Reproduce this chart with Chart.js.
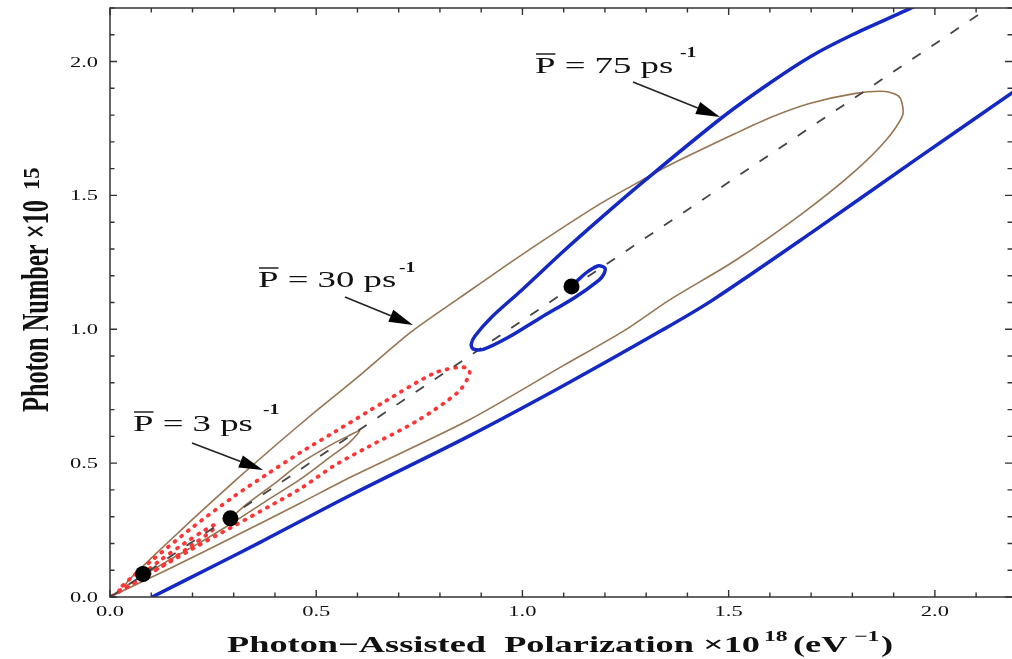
<!DOCTYPE html>
<html><head><meta charset="utf-8">
<script src="https://cdn.jsdelivr.net/npm/chart.js@4.4.1/dist/chart.umd.min.js"></script>
<style>html,body{margin:0;padding:0;background:#fff;overflow:hidden}#wrap{width:1012px;height:659px;position:relative}</style>
</head><body><div id="wrap"><canvas id="c" width="1012" height="659"></canvas></div>
<script>
// ---- tick labels ----
const xTickLabels = ['0.0','0.5','1.0','1.5','2.0'];
const yTickLabels = ['0.0','0.5','1.0','1.5','2.0'];
// ---- annotation labels (mean rate, ps^-1) ----
const rateLabels = ['3','30','75'];
// ---- steady-state points ----
const dotX = [0.080, 0.292, 1.119];
const dotY = [0.086, 0.294, 1.160];
// ---- dashed diagonal ----
const diagX = [0.0, 2.13];
const diagY = [0.0, 2.20];
// ---- 75 ps^-1 (blue) ----
const blueX = [1.119,1.139,1.161,1.185,1.200,1.197,1.185,1.127,1.046,0.966,0.905,0.880,0.876,0.885,0.925,0.998,1.102,1.192,1.297,1.484,1.600,1.700,1.800,1.929,1.970];
const blueY = [1.160,1.190,1.218,1.237,1.228,1.205,1.183,1.119,1.045,0.970,0.925,0.927,0.945,0.975,1.045,1.146,1.295,1.418,1.556,1.791,1.920,2.020,2.100,2.190,2.220];
const blueLowX = [0.102,0.250,0.365,0.584,0.869,1.100,1.338,1.460,1.700,1.950,2.250];
const blueLowY = [0.000,0.115,0.205,0.381,0.600,0.790,0.996,1.108,1.360,1.630,1.950];
// ---- 30 ps^-1 (brown) ----
const brownX = [0.292,0.330,0.400,0.462,0.540,0.585,0.605,0.598,0.577,0.540,0.462,0.380,0.300,0.220,0.140,0.070,0.035,
  0.050,0.100,0.200,0.300,0.400,0.500,0.600,0.730,0.850,1.000,1.190,1.297,1.355,1.516,1.600,1.696,1.808,1.881,1.915,1.922,
  1.881,1.800,1.679,1.516,1.355,1.248,1.100,0.869,0.584,0.462,0.300,0.150,0.000];
const brownY = [0.294,0.345,0.425,0.500,0.572,0.607,0.622,0.605,0.572,0.530,0.440,0.360,0.280,0.205,0.135,0.070,0.040,
  0.070,0.145,0.290,0.430,0.565,0.695,0.820,0.990,1.120,1.280,1.470,1.563,1.612,1.731,1.790,1.843,1.881,1.888,1.866,1.800,
  1.705,1.582,1.433,1.257,1.108,0.996,0.865,0.660,0.448,0.351,0.225,0.110,0.000];
// ---- 3 ps^-1 (red dotted) ----
const redX = [0.080,0.120,0.180,0.230,0.255,0.250,0.200,0.140,0.080,0.040,0.020,
  0.050,0.100,0.200,0.300,0.382,0.462,0.543,0.664,0.786,0.844,0.866,0.872,0.869,0.844,0.747,0.625,0.543,0.462,0.382,0.300,0.200,0.100,0.000];
const redY = [0.086,0.135,0.200,0.250,0.270,0.252,0.195,0.130,0.072,0.036,0.025,
  0.070,0.135,0.260,0.375,0.460,0.540,0.615,0.728,0.836,0.858,0.855,0.840,0.821,0.765,0.660,0.560,0.490,0.405,0.335,0.265,0.180,0.090,0.000];

const pts = (xs, ys) => xs.map((v, i) => ({x: v, y: ys[i]}));

const SERIF = '"Liberation Serif", "DejaVu Serif", serif';
function txt(ctx, s, x, y, font, sx, align) {
  ctx.save();
  ctx.font = font;
  ctx.textAlign = align || 'left';
  ctx.textBaseline = 'alphabetic';
  ctx.translate(x, y);
  ctx.scale(sx, 1);
  ctx.fillText(s, 0, 0);
  const w = ctx.measureText(s).width * sx;
  ctx.restore();
  return w;
}
function arrow(ctx, x1, y1, x2, y2) {
  const ang = Math.atan2(y2 - y1, x2 - x1);
  const L = 24, W = 6.5;
  const bx = x2 - L * Math.cos(ang), by = y2 - L * Math.sin(ang);
  ctx.save();
  ctx.strokeStyle = '#222'; ctx.fillStyle = '#000'; ctx.lineWidth = 1.6;
  ctx.beginPath(); ctx.moveTo(x1, y1); ctx.lineTo(bx, by); ctx.stroke();
  ctx.beginPath();
  ctx.moveTo(x2, y2);
  ctx.lineTo(bx + W * Math.sin(ang), by - W * Math.cos(ang));
  ctx.lineTo(bx - W * Math.sin(ang), by + W * Math.cos(ang));
  ctx.closePath(); ctx.fill();
  ctx.restore();
}
function rateNote(ctx, x, base, rate, supX, supBase) {
  const f = '23px ' + SERIF;
  const sx = 1.6;
  const wP = txt(ctx, 'P', x, base, f, sx);
  ctx.save(); ctx.strokeStyle = '#111'; ctx.lineWidth = 1.4;
  ctx.beginPath(); ctx.moveTo(x + 1, base - 19); ctx.lineTo(x + wP, base - 19); ctx.stroke(); ctx.restore();
  txt(ctx, ' = ' + rate + ' ps', x + wP, base, f, sx);
  txt(ctx, '-1', supX, supBase, 'bold 14px ' + SERIF, 1.4);
}

const decor = {
  id: 'decor',
  afterDraw(chart) {
    const {ctx, chartArea: a, scales: {x, y}} = chart;
    ctx.save();
    ctx.fillStyle = '#111';
    // frame
    ctx.strokeStyle = '#333'; ctx.lineWidth = 1.5;
    ctx.beginPath();
    ctx.moveTo(a.right + 2, a.top); ctx.lineTo(a.left, a.top); ctx.lineTo(a.left, a.bottom); ctx.lineTo(a.right + 2, a.bottom);
    ctx.stroke();
    // inward ticks on all sides
    ctx.lineWidth = 1.4;
    ctx.beginPath();
    for (let i = 0; i <= 22; i++) {
      const v = i / 10, L = (i % 5 === 0) ? 7 : 4.5;
      const px = x.getPixelForValue(v);
      if (px <= a.right + 0.5) {
        ctx.moveTo(px, a.bottom); ctx.lineTo(px, a.bottom - L);
        ctx.moveTo(px, a.top); ctx.lineTo(px, a.top + L);
      }
      const py = y.getPixelForValue(v);
      if (py >= a.top - 0.5) {
        ctx.moveTo(a.left, py); ctx.lineTo(a.left + L, py);
        ctx.moveTo(a.right, py); ctx.lineTo(a.right - L, py);
      }
    }
    ctx.stroke();
    // tick labels
    const tf = '15px ' + SERIF;
    xTickLabels.forEach(s => txt(ctx, s, x.getPixelForValue(parseFloat(s)), a.bottom + 19, tf, 1.5, 'center'));
    yTickLabels.forEach(s => txt(ctx, s, a.left - 12, y.getPixelForValue(parseFloat(s)) + 5, tf, 1.5, 'right'));
    // x axis title
    const tb = 'bold 23px ' + SERIF;
    ctx.font = tb;
    const main = 'Photon\u2212Assisted  Polarization \u00d710';
    const sxT = 533 / ctx.measureText(main).width;
    txt(ctx, main, 227, 652, tb, sxT);
    txt(ctx, '18', 764, 641, 'bold 15px ' + SERIF, sxT);
    txt(ctx, '(eV', 793, 652, tb, sxT);
    txt(ctx, '\u22121', 854, 641, 'bold 15px ' + SERIF, sxT);
    txt(ctx, ')', 881, 652, tb, sxT);
    // y axis title (rotated)
    ctx.save();
    ctx.translate(48, 412);
    ctx.rotate(-Math.PI / 2);
    ctx.font = 'bold 24px ' + SERIF;
    ctx.textBaseline = 'alphabetic';
    const ym = 'Photon Number \u00d710';
    const ls = 212 / ctx.measureText(ym).width;
    ctx.save(); ctx.scale(ls, 1.6); ctx.fillText(ym, 0, 0); ctx.restore();
    ctx.save(); ctx.translate(222, -9); ctx.scale(1.5, 1.6); ctx.font = 'bold 15px ' + SERIF; ctx.fillText('15', 0, 0); ctx.restore();
    ctx.restore();
    // annotations
    rateNote(ctx, 535, 73, rateLabels[2], 680, 57);
    arrow(ctx, 633, 82, 720, 117);
    rateNote(ctx, 258, 287, rateLabels[1], 399, 272);
    arrow(ctx, 345, 297, 413, 325);
    rateNote(ctx, 133, 431, rateLabels[0], 263, 414);
    arrow(ctx, 192, 443, 263, 470);
    ctx.restore();
  }
};

new Chart(document.getElementById('c'), {
  type: 'scatter',
  data: {
    datasets: [
      {label: 'start', data: pts(dotX, dotY), showLine: false, pointRadius: 8, pointBackgroundColor: '#000', pointBorderWidth: 0},
      {label: '75', data: pts(blueX, blueY), showLine: true, borderColor: '#1428c4', borderWidth: 3.5, pointRadius: 0, tension: 0.3, fill: false},
      {label: '75b', data: pts(blueLowX, blueLowY), showLine: true, borderColor: '#1428c4', borderWidth: 3.5, pointRadius: 0, tension: 0.3, fill: false},
      {label: 'diag', data: pts(diagX, diagY), showLine: true, borderColor: '#444', borderWidth: 1.8, borderDash: [10, 13], pointRadius: 0, tension: 0},
      {label: '3', data: pts(redX, redY), showLine: true, borderColor: '#ff3434', borderWidth: 3.8, borderDash: [1, 7.5], borderCapStyle: 'round', pointRadius: 0, tension: 0.3},
      {label: '30', data: pts(brownX, brownY), showLine: true, borderColor: '#977452', borderWidth: 1.6, pointRadius: 0, tension: 0.25}
    ]
  },
  options: {
    responsive: false, animation: false, devicePixelRatio: 1,
    layout: {autoPadding: false, padding: {top: 8, right: 0, left: 0, bottom: 0}},
    plugins: {legend: {display: false}, tooltip: {enabled: false}},
    scales: {
      x: {type: 'linear', min: 0, max: 2.187, ticks: {display: false, stepSize: 0.5, includeBounds: false},
          grid: {display: false}, border: {display: false}, afterFit: s => { s.height = 62; }},
      y: {type: 'linear', min: 0, max: 2.2, ticks: {display: false, stepSize: 0.5, includeBounds: false},
          grid: {display: false}, border: {display: false}, afterFit: s => { s.width = 110; }}
    }
  },
  plugins: [decor]
});
</script></body></html>
